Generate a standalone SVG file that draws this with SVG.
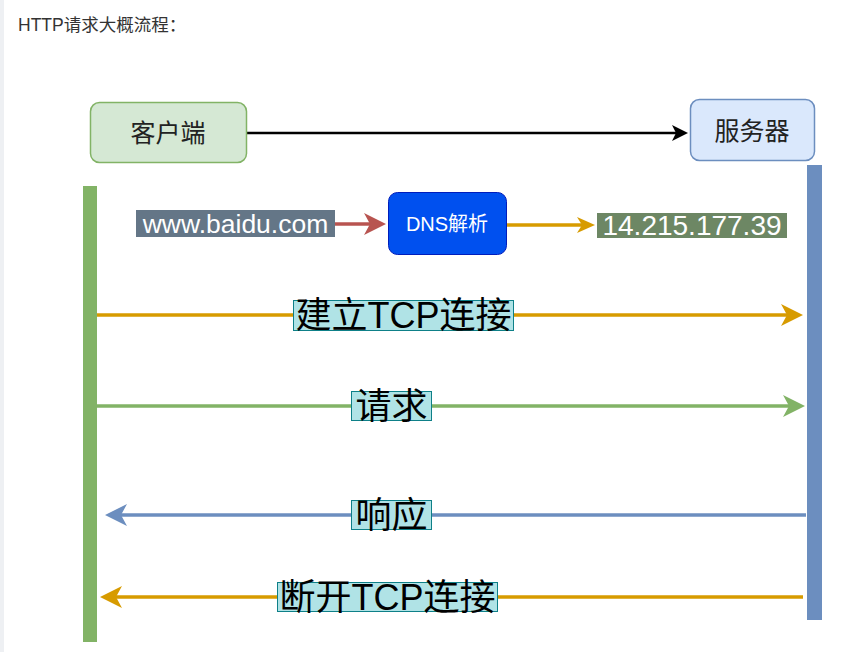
<svg xmlns="http://www.w3.org/2000/svg" width="868" height="652" viewBox="0 0 868 652">
<defs>
<style>
.cjk{font-family:"Liberation Sans","Noto Sans CJK SC",sans-serif;}
.lbl{font-size:36px;fill:#000;text-anchor:middle;}
.lblbg{fill:#b0e3e6;stroke:#0e8088;stroke-width:1;}
.conn{fill:none;stroke-width:3.5;}
</style>
<marker id="aOr" viewBox="0 0 22 22" refX="12" refY="11" markerWidth="22" markerHeight="22" markerUnits="userSpaceOnUse" orient="auto"><path d="M0,0 L22,11 L0,22 L6,11 Z" fill="#d79b00"/></marker>
<marker id="aGr" viewBox="0 0 22 22" refX="12" refY="11" markerWidth="22" markerHeight="22" markerUnits="userSpaceOnUse" orient="auto"><path d="M0,0 L22,11 L0,22 L6,11 Z" fill="#82b366"/></marker>
<marker id="aBl" viewBox="0 0 22 22" refX="12" refY="11" markerWidth="22" markerHeight="22" markerUnits="userSpaceOnUse" orient="auto"><path d="M0,0 L22,11 L0,22 L6,11 Z" fill="#6c8ebf"/></marker>
<marker id="aRd" viewBox="0 0 22 22" refX="12" refY="11" markerWidth="22" markerHeight="22" markerUnits="userSpaceOnUse" orient="auto"><path d="M0,0 L22,11 L0,22 L6,11 Z" fill="#b85450"/></marker>
<marker id="aOrS" viewBox="0 0 18 16" refX="10" refY="8" markerWidth="18" markerHeight="16" markerUnits="userSpaceOnUse" orient="auto"><path d="M0,0 L18,8 L0,16 L5,8 Z" fill="#d79b00"/></marker>
<marker id="aBk" viewBox="0 0 16 16" refX="8" refY="8" markerWidth="16" markerHeight="16" markerUnits="userSpaceOnUse" orient="auto"><path d="M0,0 L16,8 L0,16 L4,8 Z" fill="#000"/></marker>
</defs>
<rect x="0" y="0" width="868" height="652" fill="#ffffff"/>
<rect x="0" y="0" width="4" height="652" fill="#eef0f3"/>
<text x="18" y="31" class="cjk" font-size="17.5" fill="#333333">HTTP请求大概流程：</text>

<g id="lifeline-client"><rect x="83" y="186" width="14" height="456" fill="#82b366"/></g>
<g id="lifeline-server"><rect x="807" y="165" width="15" height="455" fill="#6c8ebf"/></g>

<g id="connectors">
<line x1="247" y1="133" x2="680" y2="133" stroke="#000" stroke-width="2.5" marker-end="url(#aBk)"/>
<line x1="335" y1="224" x2="376" y2="224" class="conn" stroke="#b85450" stroke-width="3" marker-end="url(#aRd)"/>
<line x1="507" y1="225" x2="587" y2="225" class="conn" stroke="#d79b00" stroke-width="2.5" marker-end="url(#aOrS)"/>
<line x1="97" y1="315" x2="793" y2="315" class="conn" stroke="#d79b00" marker-end="url(#aOr)"/>
<line x1="97" y1="406" x2="795" y2="406" class="conn" stroke="#82b366" marker-end="url(#aGr)"/>
<line x1="806" y1="515" x2="115" y2="515" class="conn" stroke="#6c8ebf" marker-end="url(#aBl)"/>
<line x1="803" y1="597" x2="110" y2="597" class="conn" stroke="#d79b00" marker-end="url(#aOr)"/>
</g>

<g id="client">
<rect x="90.5" y="102.5" width="156" height="60" rx="9" fill="#d5e8d4" stroke="#82b366" stroke-width="1.5"/>
<text x="168" y="142" class="cjk" font-size="25" fill="#222" text-anchor="middle">客户端</text>
</g>
<g id="server">
<rect x="690.5" y="99.5" width="124" height="61" rx="9" fill="#dae8fc" stroke="#6c8ebf" stroke-width="1.5"/>
<text x="752" y="140" class="cjk" font-size="25" fill="#222" text-anchor="middle">服务器</text>
</g>

<g id="domain">
<rect x="136" y="210" width="199" height="27" fill="#647687"/>
<text x="235.5" y="233" class="cjk" font-size="26.5" fill="#fff" text-anchor="middle">www.baidu.com</text>
</g>
<g id="dns">
<rect x="388.5" y="192.5" width="118" height="62" rx="9" fill="#0050ef" stroke="#001dbc" stroke-width="1"/>
<text x="447" y="231" class="cjk" font-size="20" fill="#fff" text-anchor="middle">DNS解析</text>
</g>
<g id="ip">
<rect x="597" y="213" width="190" height="25" fill="#6d8764"/>
<text x="692" y="235" class="cjk" font-size="28" fill="#fff" text-anchor="middle">14.215.177.39</text>
</g>

<g id="label-connect">
<rect x="293.5" y="300.5" width="220" height="30" class="lblbg"/>
<text x="403.5" y="328" class="cjk lbl">建立TCP连接</text>
</g>
<g id="label-request">
<rect x="351.5" y="391.5" width="80" height="29" class="lblbg"/>
<text x="391.5" y="419" class="cjk lbl">请求</text>
</g>
<g id="label-response">
<rect x="351.5" y="500.5" width="80" height="29" class="lblbg"/>
<text x="391.5" y="528" class="cjk lbl">响应</text>
</g>
<g id="label-disconnect">
<rect x="277.5" y="582.5" width="220" height="29" class="lblbg"/>
<text x="387.5" y="610" class="cjk lbl">断开TCP连接</text>
</g>
</svg>
